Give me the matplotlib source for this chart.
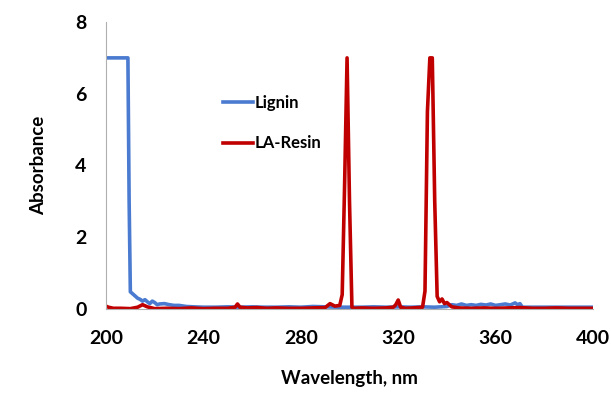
"""
    UV-vis absorbance of lignin and LA-resin
"""

import matplotlib
matplotlib.use("Agg")
import matplotlib.pyplot as plt

# values
lignin_wl = [200, 209, 209.5, 210, 211, 212, 213, 214, 215, 216, 217, 218, 219,
             220, 221, 222, 224, 226, 228, 230, 233, 236, 240, 245, 250, 255,
             260, 265, 270, 275, 280, 285, 290, 295, 300, 305, 310, 315, 320,
             325, 330, 335, 340, 342, 344, 346, 348, 350, 352, 354, 356, 358,
             360, 362, 364, 366, 368, 369, 370, 371, 375, 380, 385, 390, 395, 400]
lignin_abs = [7.0, 7.0, 3.0, 0.48, 0.42, 0.36, 0.3, 0.27, 0.22, 0.26, 0.2, 0.15,
              0.22, 0.18, 0.12, 0.14, 0.15, 0.12, 0.1, 0.1, 0.07, 0.06, 0.05, 0.05,
              0.06, 0.05, 0.06, 0.05, 0.05, 0.06, 0.05, 0.07, 0.06, 0.05, 0.05,
              0.05, 0.06, 0.05, 0.06, 0.05, 0.06, 0.05, 0.07, 0.12, 0.1, 0.14, 0.1,
              0.12, 0.1, 0.13, 0.11, 0.14, 0.1, 0.12, 0.14, 0.11, 0.17, 0.12, 0.15,
              0.05, 0.05, 0.05, 0.05, 0.05, 0.05, 0.05]

resin_wl = [200, 201, 203, 206, 210, 213, 215, 217, 220, 225, 230, 235, 240, 245,
            250, 253, 254, 255, 258, 262, 266, 270, 275, 280, 285, 290, 292, 294,
            296, 297, 298, 299, 300, 301, 302, 305, 310, 315, 318, 319, 320, 321,
            323, 326, 330, 331, 332, 333, 334, 335, 336, 337, 338, 339, 340, 342,
            345, 350, 355, 360, 365, 370, 375, 380, 385, 390, 395, 400]
resin_abs = [0.08, 0.05, 0.02, 0.02, 0.01, 0.05, 0.12, 0.06, 0.01, 0.02, 0.01,
             0.03, 0.01, 0.02, 0.02, 0.05, 0.14, 0.05, 0.03, 0.04, 0.02, 0.03,
             0.02, 0.02, 0.03, 0.04, 0.15, 0.08, 0.1, 0.4, 3.5, 7.0, 3.0, 0.05,
             0.02, 0.03, 0.02, 0.03, 0.05, 0.12, 0.25, 0.05, 0.02, 0.03, 0.05,
             0.5, 5.5, 7.0, 7.0, 3.0, 0.35, 0.2, 0.28, 0.15, 0.18, 0.06, 0.03,
             0.02, 0.03, 0.02, 0.03, 0.04, 0.02, 0.02, 0.03, 0.02, 0.02, 0.02]

xticks = [200, 240, 280, 320, 360, 400]
yticks = [0, 2, 4, 6, 8]

plt.rcParams['font.family'] = ['Lato', 'DejaVu Sans']
plt.rcParams['font.weight'] = 'bold'

fig = plt.figure(figsize=(6.11, 3.93), dpi=100)
ax = fig.add_axes([106 / 611, 1 - 309 / 393, 487 / 611, 287 / 393])

ax.plot(lignin_wl, lignin_abs, color='#4a7bd0', lw=2.6, label='Lignin',
        solid_joinstyle='round')
ax.plot(resin_wl, resin_abs, color='#c00000', lw=2.6, label='LA-Resin',
        solid_joinstyle='round')

ax.set_xlim(200, 400)
ax.set_ylim(0, 8)
ax.set_xticks(xticks)
ax.set_yticks(yticks)
ax.tick_params(length=0, labelsize=14)
ax.tick_params(axis='x', pad=15)
ax.tick_params(axis='y', pad=14)
for lab in ax.get_xticklabels() + ax.get_yticklabels():
    lab.set_fontweight('bold')

for side in ['top', 'right']:
    ax.spines[side].set_visible(False)
ax.spines['left'].set_color('#b0b0b0')
ax.spines['bottom'].set_color('#b0b0b0')

ax.set_xlabel("Wavelength, nm", fontsize=13.5, fontweight='bold', labelpad=17)
ax.set_ylabel("Absorbance", fontsize=13.5, fontweight='bold', labelpad=20)

ax.legend(loc='upper left', bbox_to_anchor=(215 / 611, 1 - 87 / 393),
          bbox_transform=fig.transFigure, frameon=False,
          handlelength=1.8, handletextpad=0.1, labelspacing=1.45, borderpad=0,
          prop={'weight': 'bold', 'size': 12})

fig.savefig("out.png", dpi=100)
